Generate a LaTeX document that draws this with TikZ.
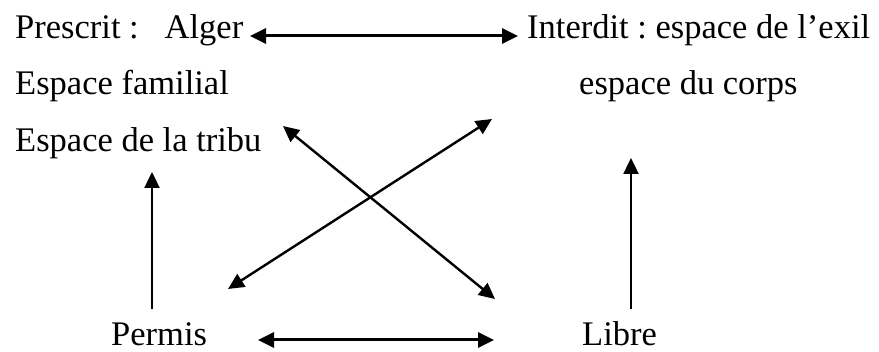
\documentclass[tikz,border=0pt]{standalone}
\usepackage{fontspec}
\setmainfont{Liberation Serif}
\usetikzlibrary{arrows.meta}
\begin{document}
\frenchspacing
\begin{tikzpicture}[x=1pt,y=-1pt,
  lbl/.style={anchor=base west,inner sep=0pt,font=\fontsize{34.5}{41}\selectfont},
  head/.tip={Triangle[length=16pt,width=15pt]},
  link/.style={line width=2.4pt,-head},
  dlink/.style={line width=2.4pt,head-head},
  hlink/.style={line width=3pt,head-head}]
\useasboundingbox (0,0) rectangle (879,352);
% labels
\node[lbl] (prescrit) at (15,39) {Prescrit :\hspace{0.75em}Alger};
\node[lbl] (interdit) at (527,39) {Interdit : espace de l’exil};
\node[lbl] (familial) at (15,95) {Espace familial};
\node[lbl] (corps) at (579,95) {espace du corps};
\node[lbl] (tribu) at (15,152) {Espace de la tribu};
\node[lbl] (permis) at (111,346) {Permis};
\node[lbl] (libre) at (582,346) {Libre};
% arrow end points
\coordinate (tl) at (250,36);
\coordinate (tr) at (518,36);
\coordinate (bl) at (258,340);
\coordinate (br) at (494,340);
\coordinate (lvb) at (152,309);
\coordinate (lvt) at (152,172);
\coordinate (rvb) at (631,309);
\coordinate (rvt) at (631,158);
\coordinate (ane) at (492,119);
\coordinate (asw) at (228,289);
\coordinate (bnw) at (283,126);
\coordinate (bse) at (495,299);
% connectors
\draw[hlink] (tl) -- (tr);
\draw[hlink] (bl) -- (br);
\draw[link] (lvb) -- (lvt);
\draw[link] (rvb) -- (rvt);
\draw[dlink] (asw) -- (ane);
\draw[dlink] (bnw) -- (bse);
\end{tikzpicture}
\end{document}
